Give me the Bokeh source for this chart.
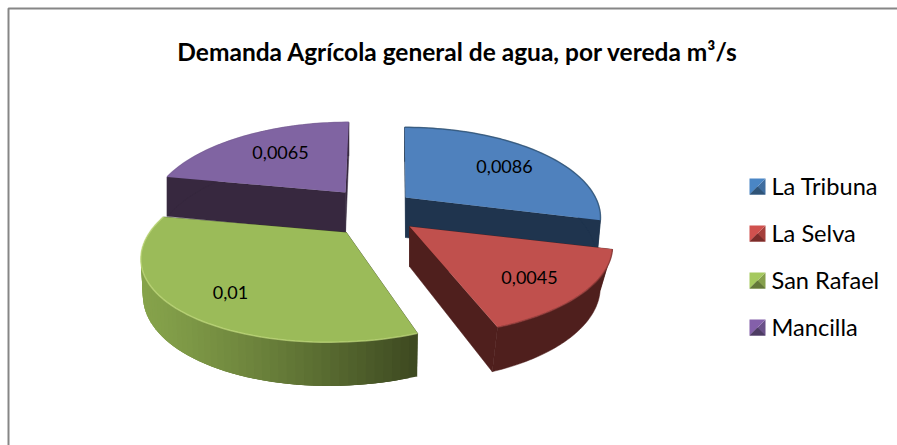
import math
from bokeh.plotting import figure
from bokeh.models import Range1d
from bokeh.core.properties import value
from bokeh.embed import file_html
from bokeh.resources import INLINE

# data
categories = ["La Tribuna", "La Selva", "San Rafael", "Mancilla"]
values = [0.0086, 0.0045, 0.01, 0.0065]
value_labels = ["0,0086", "0,0045", "0,01", "0,0065"]
title = "Demanda Agrícola general de agua, por vereda m³/s"

# style
top_colors = ["#4f81bd", "#c0504d", "#9bbb59", "#8064a2"]
side_colors = ["#1f344e", "#4f1f1d", "#6f8a3f", "#37283f"]
swatch_colors = [("#4a86c5", "#2f5478", "#3f6d9f"), ("#d0514e", "#7a2c2a", "#a53f3c"),
                 ("#a5c95f", "#64783a", "#86a04c"), ("#8460aa", "#4d3c63", "#6a5088")]
# layout: apex x, apex y, half-width, skew, bottom shrink, depth per slice
slice_layout = [(405, 197, 190, -1, 0.98, 40), (409, 226, 198, 0, 0.94, 40),
                (346, 232, 197, 14, 0.99, 35), (345, 192, 190, 4, 1.0, 41)]
label_pos = [(504, 166), (529, 277), (230, 292), (280, 152)]
BACK = 85.6
PERSP = 0.22

p = figure(width=897, height=445, x_range=Range1d(0, 897), y_range=Range1d(445, 0),
           output_backend="svg", toolbar_location=None, min_border=0)
p.axis.visible = False
p.grid.visible = False
p.outline_line_color = None
p.background_fill_color = "white"

# chart frame (top and left edges)
p.line([8, 8, 897], [445, 8, 8], line_color="#868686", line_width=2)


def project(i, theta, bottom=False):
    cx, cy, a, c, shrink, depth = slice_layout[i]
    X, Y = math.sin(theta), math.cos(theta)
    s = 1 / (1 + PERSP * Y)
    f = shrink if bottom else 1
    x = cx + (a * X + c * Y) * s * f
    y = cy - BACK * Y * s * f + (depth * s if bottom else 0)
    return x, y


def apex(i, bottom=False):
    cx, cy = slice_layout[i][:2]
    return cx, cy + (slice_layout[i][5] if bottom else 0)


def mix(c1, c2, t):
    a = [int(c1[j:j + 2], 16) for j in (1, 3, 5)]
    b = [int(c2[j:j + 2], 16) for j in (1, 3, 5)]
    return "#%02x%02x%02x" % tuple(round(u + (v - u) * t) for u, v in zip(a, b))


total = sum(values)
spans = []
acc = 0
for v in values:
    spans.append((acc / total * 2 * math.pi, (acc + v) / total * 2 * math.pi))
    acc += v

STEPS = 60
for i in [3, 0, 2, 1]:
    t0, t1 = spans[i]
    ths = [t0 + (t1 - t0) * k / STEPS for k in range(STEPS + 1)]
    top = [project(i, t) for t in ths]
    bot = [project(i, t, True) for t in ths]
    # radial side faces
    for tb in (ths[0], ths[-1]):
        a0, a1 = apex(i), apex(i, True)
        e0, e1 = project(i, tb), project(i, tb, True)
        col = side_colors[i] if i != 2 else "#3f4a22"
        p.patch([a0[0], e0[0], e1[0], a1[0]], [a0[1], e0[1], e1[1], a1[1]],
                fill_color=col, line_color=col, line_width=0.5)
    # outer rim
    if i == 2:
        for k in range(STEPS):
            u = (top[k][0] - 141) / (417 - 141)
            col = mix("#86a34b", "#3e4a21", max(0, min(1, u)) ** 1.2)
            n = min(k + 3, STEPS)
            p.patch([top[k][0], top[n][0], bot[n][0], bot[k][0]],
                    [top[k][1], top[n][1], bot[n][1], bot[k][1]],
                    fill_color=col, line_color=None)
    else:
        col = side_colors[i]
        p.patch([q[0] for q in top] + [q[0] for q in reversed(bot)],
                [q[1] for q in top] + [q[1] for q in reversed(bot)],
                fill_color=col, line_color=col, line_width=0.5)
    # top face
    a0 = apex(i)
    p.patch([a0[0]] + [q[0] for q in top], [a0[1]] + [q[1] for q in top],
            fill_color=top_colors[i], line_color=None)
    # rim bevel
    bevel = {0: "#2f5478", 1: "#8a3836", 2: "#c3dc80", 3: "#8064a2"}[i]
    p.line([q[0] for q in top], [q[1] for q in top], line_color=bevel, line_width=1.5, line_alpha=0.7)

# data labels
p.text([q[0] for q in label_pos], [q[1] for q in label_pos], text=value_labels,
       text_font=value("Lato"), text_font_size="18px", text_color="#000000",
       text_align="center", text_baseline="middle")

# title
p.text([457.5], [51], text=[title], text_font=value("Lato"), text_font_size="24.5px",
       text_font_style="bold", text_color="#000000", text_align="center", text_baseline="middle")

# legend
LX, LY, SZ, STEP = 749, 178, 16, 47
for i, name in enumerate(categories):
    y = LY + i * STEP
    light, dark, mid = swatch_colors[i]
    xc, yc = LX + SZ / 2, y + SZ / 2
    p.patch([LX, LX + SZ, LX + SZ], [y + SZ, y, y + SZ], fill_color=mid, line_color=None)
    p.patch([LX, LX + SZ, LX], [y + SZ, y, y], fill_color=light, line_color=None)
    p.patch([LX, LX + SZ, xc], [y + SZ, y + SZ, yc], fill_color=dark, line_color=None)
    p.text([771], [yc - 1], text=[name], text_font=value("Lato"), text_font_size="23.6px",
           text_color="#000000", text_align="left", text_baseline="middle")

open("out.html", "w").write(file_html(p, INLINE))
